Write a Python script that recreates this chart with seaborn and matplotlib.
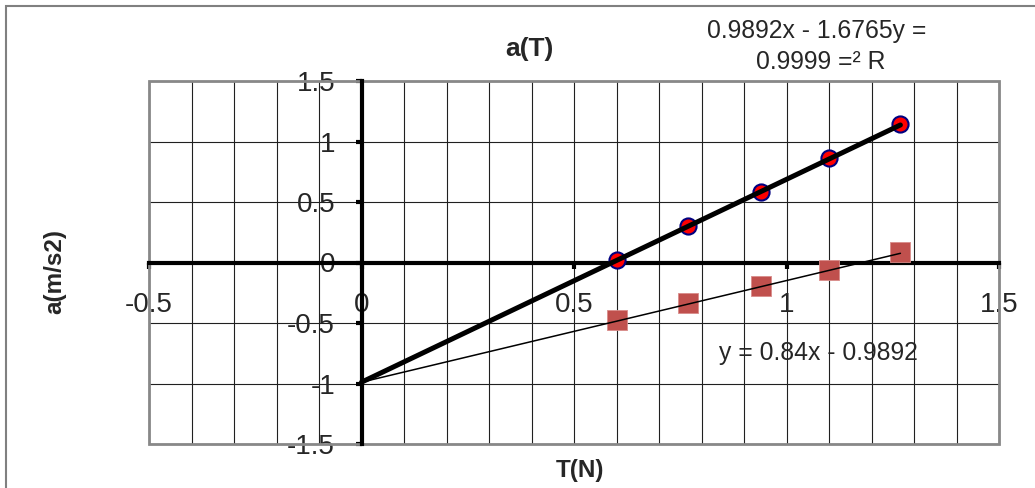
import matplotlib
matplotlib.use('Agg')
import matplotlib.pyplot as plt
from matplotlib.patches import Rectangle
from matplotlib.ticker import MultipleLocator
import numpy as np
import pandas as pd
import seaborn as sns

sns.set_style("white")
plt.rcParams['font.family'] = ['Liberation Sans', 'DejaVu Sans']

# Data
tension = [0.60, 0.769, 0.939, 1.099, 1.268]
accel_meas = [0.02, 0.302, 0.582, 0.864, 1.144]
accel_calc = [-0.478, -0.333, -0.191, -0.062, 0.084]

# trendline coefficients (from the chart labels)
slope_meas, icpt_meas = 1.6765, -0.9892
slope_calc, icpt_calc = 0.84, -0.9892

x_ticks = [-0.5, 0, 0.5, 1, 1.5]
y_ticks = [-1.5, -1, -0.5, 0, 0.5, 1, 1.5]

pts = pd.DataFrame({"T": tension, "a1": accel_meas, "a2": accel_calc})
x_fit = np.array([0, max(tension)])
fit = pd.DataFrame({"T": x_fit,
                    "f1": slope_meas * x_fit + icpt_meas,
                    "f2": slope_calc * x_fit + icpt_calc})

fig = plt.figure(figsize=(10.35, 4.88), dpi=100)
ax = fig.add_axes([149 / 1035, 44 / 488, 850 / 1035, 363 / 488])

# markers
sns.scatterplot(data=pts, x="T", y="a1", marker="o", s=135, color="#FF0000",
                edgecolor="#000080", linewidth=1.5, ax=ax, zorder=3)
sns.scatterplot(data=pts, x="T", y="a2", marker="s", s=190, color="#C0504D",
                edgecolor="#D98C8A", linewidth=0.6, ax=ax, zorder=3)

# trend lines
sns.lineplot(data=fit, x="T", y="f1", color="black", linewidth=3.6, ax=ax, zorder=4)
sns.lineplot(data=fit, x="T", y="f2", color="black", linewidth=1.1, ax=ax, zorder=4)

ax.set_xlim(-0.5, 1.5)
ax.set_ylim(-1.5, 1.5)
ax.set_xticks(x_ticks)
ax.set_xticklabels([f"{v:g}" for v in x_ticks])
ax.set_yticks(y_ticks)
ax.set_yticklabels([f"{v:g}" for v in y_ticks])
ax.xaxis.set_minor_locator(MultipleLocator(0.1))

ax.grid(True, which="both", axis="x", color="#202020", linewidth=0.8, zorder=0)
ax.grid(True, which="major", axis="y", color="#202020", linewidth=0.8, zorder=0)
ax.set_axisbelow(True)

# axes through the origin
for side in ["left", "bottom"]:
    ax.spines[side].set_position(("data", 0))
    ax.spines[side].set_linewidth(3)
    ax.spines[side].set_color("black")
    ax.spines[side].set_zorder(2.5)
for side in ["top", "right"]:
    ax.spines[side].set_visible(False)
ax.add_patch(Rectangle((0, 0), 1, 1, transform=ax.transAxes, fill=False,
                       edgecolor="#888888", linewidth=2, zorder=2, clip_on=False))

ax.tick_params(axis="both", which="major", direction="out", length=4, width=3,
               color="black", labelsize=20, left=True, bottom=True)
ax.tick_params(axis="y", pad=15)
ax.tick_params(axis="x", pad=17)
ax.tick_params(which="minor", length=0)

ax.set_xlabel("T(N)", fontsize=17.5, fontweight="bold")
ax.set_ylabel("a(m/s2)", fontsize=17.5, fontweight="bold")
ax.xaxis.set_label_coords((580 - 149) / 850, (444 - 470) / 363)
ax.yaxis.set_label_coords((55 - 149) / 850, (444 - 272) / 363)
ax.xaxis.label.set_va("center")
ax.yaxis.label.set_va("center")

fig.text(529 / 1035, 1 - 49 / 488, "a(T)", fontsize=19, fontweight="bold",
         ha="center", va="center")
fig.text(817 / 1035, 1 - 31 / 488, "0.9892x - 1.6765y =", fontsize=17.8,
         ha="center", va="center")
fig.text(821 / 1035, 1 - 62 / 488, "0.9999 =² R", fontsize=17.8,
         ha="center", va="center")
ax.text((818 - 149) / 850, (444 - 353) / 363, "y = 0.84x - 0.9892", fontsize=17.8,
        ha="center", va="center", transform=ax.transAxes, zorder=5)

# outer chart frame
fig.add_artist(Rectangle((6 / 1035, -0.1), 2, 1.1 - 6 / 488, transform=fig.transFigure,
                         fill=False, edgecolor="#808080", linewidth=1.5))

fig.savefig("out.png", dpi=100)
plt.close(fig)
